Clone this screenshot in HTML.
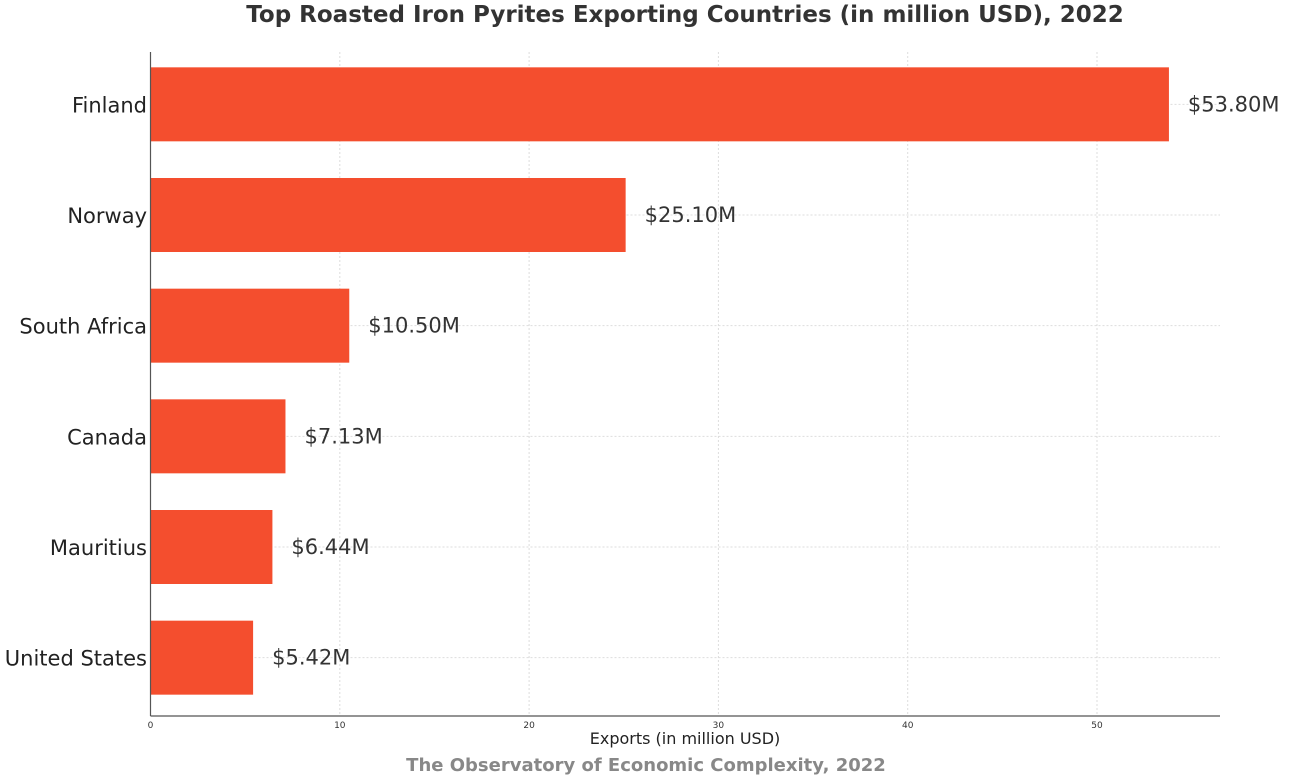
<!DOCTYPE html>
<html><head><meta charset="utf-8"><style>
body{margin:0;background:#fff;}
svg{display:block;font-family:"DejaVu Sans","Liberation Sans",sans-serif;}
</style></head><body>
<svg id="chart" width="1292" height="780" viewBox="0 0 1292 780" xmlns="http://www.w3.org/2000/svg">
<rect width="1292" height="780" fill="#fff"/>
<text x="685" y="22" text-anchor="middle" font-size="23" font-weight="bold" fill="#333">Top Roasted Iron Pyrites Exporting Countries (in million USD), 2022</text>
<g id="grid"></g>
<g id="bars"></g>
<g id="axes"></g>
<text x="685" y="744" text-anchor="middle" font-size="16" fill="#222">Exports (in million USD)</text>
<text x="646" y="771" text-anchor="middle" font-size="18" font-weight="bold" fill="#888">The Observatory of Economic Complexity, 2022</text>
</svg>
<script>
const categories = ["Finland","Norway","South Africa","Canada","Mauritius","United States"];
const values = [53.80, 25.10, 10.50, 7.13, 6.44, 5.42];
const valueLabels = ["$53.80M","$25.10M","$10.50M","$7.13M","$6.44M","$5.42M"];
const xTicks = [0,10,20,30,40,50];

const NS="http://www.w3.org/2000/svg";
const x0=150.5, pxPer=18.93, plotRight=1220, plotTop=52, plotBottom=716;
const xs = v => x0 + v*pxPer;
const band = (plotBottom-plotTop)/categories.length;
const yc = i => plotTop + band*(i+0.5) - 3;
const barH = 74;
function mk(tag, attrs, parent, txt){const e=document.createElementNS(NS,tag);for(const k in attrs)e.setAttribute(k,attrs[k]);if(txt!==undefined)e.textContent=txt;parent.appendChild(e);return e;}
const grid=document.getElementById('grid'), bars=document.getElementById('bars'), axes=document.getElementById('axes');
xTicks.forEach(t=>{
  const g=mk('line',{x1:xs(t),x2:xs(t),y1:plotTop,y2:plotBottom,stroke:'#ddd','stroke-width':1,'stroke-dasharray':'2,2'},grid);
  
  
  const l=mk('text',{x:xs(t),y:plotBottom+12,'text-anchor':'middle','font-size':9,fill:'#333'},axes,String(t));
  
  
});
categories.forEach((c,i)=>{
  const gl=mk('line',{x1:x0,x2:plotRight,y1:yc(i),y2:yc(i),stroke:'#ddd','stroke-width':1,'stroke-dasharray':'2,2'},grid);
  
  
  const r=mk('rect',{x:x0,y:yc(i)-barH/2,width:xs(values[i])-x0,height:barH,fill:'#f44e2e'},bars);
  
  
  const v=mk('text',{x:xs(values[i])+19,y:yc(i)+7,'font-size':21,fill:'#333'},bars,valueLabels[i]);
  
  
  const cl=mk('text',{x:147,y:yc(i)+8,'text-anchor':'end','font-size':21,fill:'#222'},axes,c);
  
  
});
const ya=mk('line',{x1:x0,x2:x0,y1:plotTop,y2:plotBottom,stroke:'#555','stroke-width':1.2},axes);


const xa=mk('line',{x1:x0,x2:plotRight,y1:plotBottom,y2:plotBottom,stroke:'#555','stroke-width':1.2},axes);


</script>
</body></html>
